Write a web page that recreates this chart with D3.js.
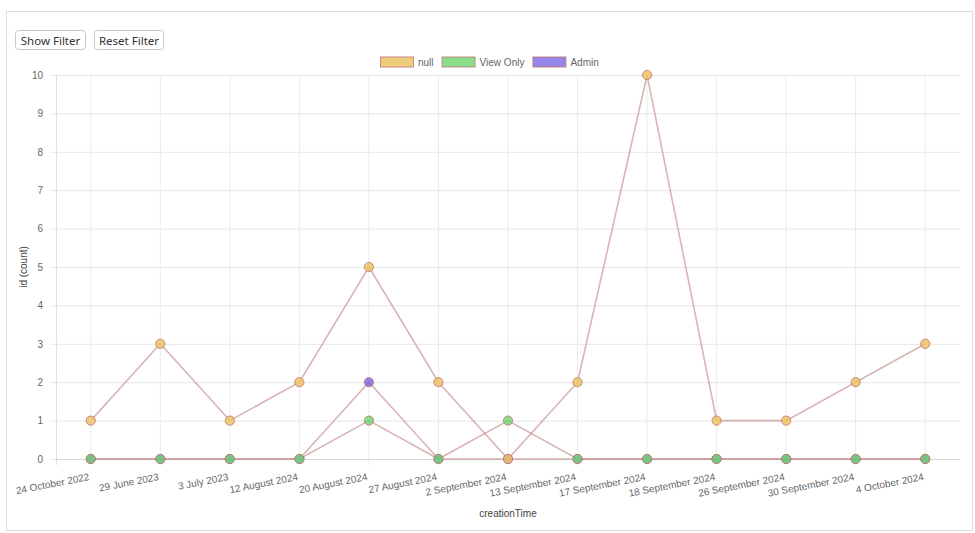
<!DOCTYPE html>
<html><head><meta charset="utf-8">
<script src="https://cdn.jsdelivr.net/npm/d3@7"></script>
<style>
body{margin:0;background:#fff;font-family:"Open Sans",sans-serif;}
svg{display:block;}
</style></head><body>
<svg id="c" width="975" height="533"></svg>
<script>
const categories = ["24 October 2022","29 June 2023","3 July 2023","12 August 2024","20 August 2024","27 August 2024","2 September 2024","13 September 2024","17 September 2024","18 September 2024","26 September 2024","30 September 2024","4 October 2024"];
const nullValues     = [1,3,1,2,5,2,0,2,10,1,1,2,3];
const viewOnlyValues = [0,0,0,0,1,0,1,0,0,0,0,0,0];
const adminValues    = [0,0,0,0,2,0,0,0,0,0,0,0,0];
const yTicks = [0,1,2,3,4,5,6,7,8,9,10];
const seriesNames = ["null","View Only","Admin"];

(function(){
const series = [
  {name:seriesNames[0], values:nullValues, fill:"rgba(236,196,100,0.85)"},
  {name:seriesNames[1], values:viewOnlyValues, fill:"rgba(110,215,110,0.8)"},
  {name:seriesNames[2], values:adminValues, fill:"rgba(112,92,222,0.75)"}
];
const lineColor = "rgba(185,120,120,0.55)";
const pointStroke = "rgba(190,120,120,0.85)";

const svg = d3.select("#c");
svg.append("rect").attr("x",6.5).attr("y",11.5).attr("width",966).attr("height",519)
  .attr("fill","#fff").attr("stroke","#ddd");

[["Show Filter",15,70],["Reset Filter",94,69]].forEach(([t,x,w])=>{
  svg.append("rect").attr("x",x+0.5).attr("y",30.5).attr("width",w).attr("height",19).attr("rx",3)
    .attr("fill","#fff").attr("stroke","#c8c8c8");
  svg.append("text").attr("x",x+w/2+0.5).attr("y",44.5).attr("text-anchor","middle")
    .attr("font-size",11.5).attr("fill","#333").attr("font-family","'Noto Sans',sans-serif").text(t);
});

const pl=56, pr=960, pt=75, pb=459;
const x = d3.scaleBand().domain(categories).range([pl,pr]);
const xc = d => x(d)+x.bandwidth()/2;
const y = d3.scaleLinear().domain([0,10]).range([pb,pt]);

const g = svg.append("g").attr("font-family","Arial, 'Liberation Sans', sans-serif");
const yAxis = d3.axisLeft(y).tickValues(yTicks).tickSize(-(pr-pl)).tickPadding(8).tickSizeOuter(0);
const ya = g.append("g").attr("transform",`translate(${pl},0)`).call(yAxis);
ya.select(".domain").remove();
ya.selectAll(".tick line").attr("stroke","#e6e6e6").attr("x1",-6);
ya.selectAll(".tick text").attr("fill","#666").attr("font-size",10).attr("x",-13);
const xAxis = d3.axisBottom(x).tickSize(-(pb-pt)).tickSizeOuter(0);
const xa = g.append("g").attr("transform",`translate(0,${pb})`).call(xAxis);
xa.select(".domain").remove();
xa.selectAll(".tick line").attr("stroke","#ebebeb").attr("y2",6).attr("y1",-(pb-pt));
xa.selectAll(".tick text").attr("fill","#666").attr("font-size",10)
  .attr("text-anchor","end").attr("dy",0).attr("y",0)
  .attr("transform","translate(-1,21) rotate(-11)");
g.append("line").attr("x1",pl+0.5).attr("x2",pl+0.5).attr("y1",pt).attr("y2",pb+6).attr("stroke","#e0e0e0");
g.append("line").attr("x1",pl).attr("x2",pr).attr("y1",pb+0.5).attr("y2",pb+0.5).attr("stroke","#d8d8d8");

g.append("text").attr("transform",`translate(27,${(pt+pb)/2}) rotate(-90)`).attr("text-anchor","middle")
  .attr("font-size",10).attr("fill","#444").text("id (count)");
g.append("text").attr("x",(pl+pr)/2).attr("y",517).attr("text-anchor","middle")
  .attr("font-size",10).attr("fill","#444").text("creationTime");

const line = d3.line().x((d,i)=>xc(categories[i])).y(d=>y(d));
const rev = series.slice().reverse();
rev.forEach(s=>{
  g.append("path").datum(s.values).attr("d",line).attr("fill","none")
    .attr("stroke",lineColor).attr("stroke-width",1.6);
});
rev.forEach(s=>{
  g.append("g").selectAll("circle").data(s.values).join("circle")
    .attr("cx",(d,i)=>xc(categories[i])).attr("cy",d=>y(d)).attr("r",4.6)
    .attr("fill",s.fill).attr("stroke",pointStroke).attr("stroke-width",1);
});

const legend = g.append("g").attr("font-size",10).attr("fill","#666");
let lx = 380;
series.forEach(s=>{
  legend.append("rect").attr("x",lx+0.5).attr("y",57).attr("width",33).attr("height",10)
    .attr("fill",s.fill).attr("stroke",pointStroke);
  const t = legend.append("text").attr("x",lx+38).attr("y",65.5).attr("fill","#666").text(s.name);
  lx += 38 + t.node().getComputedTextLength() + 8;
});
})();
</script>
</body></html>
